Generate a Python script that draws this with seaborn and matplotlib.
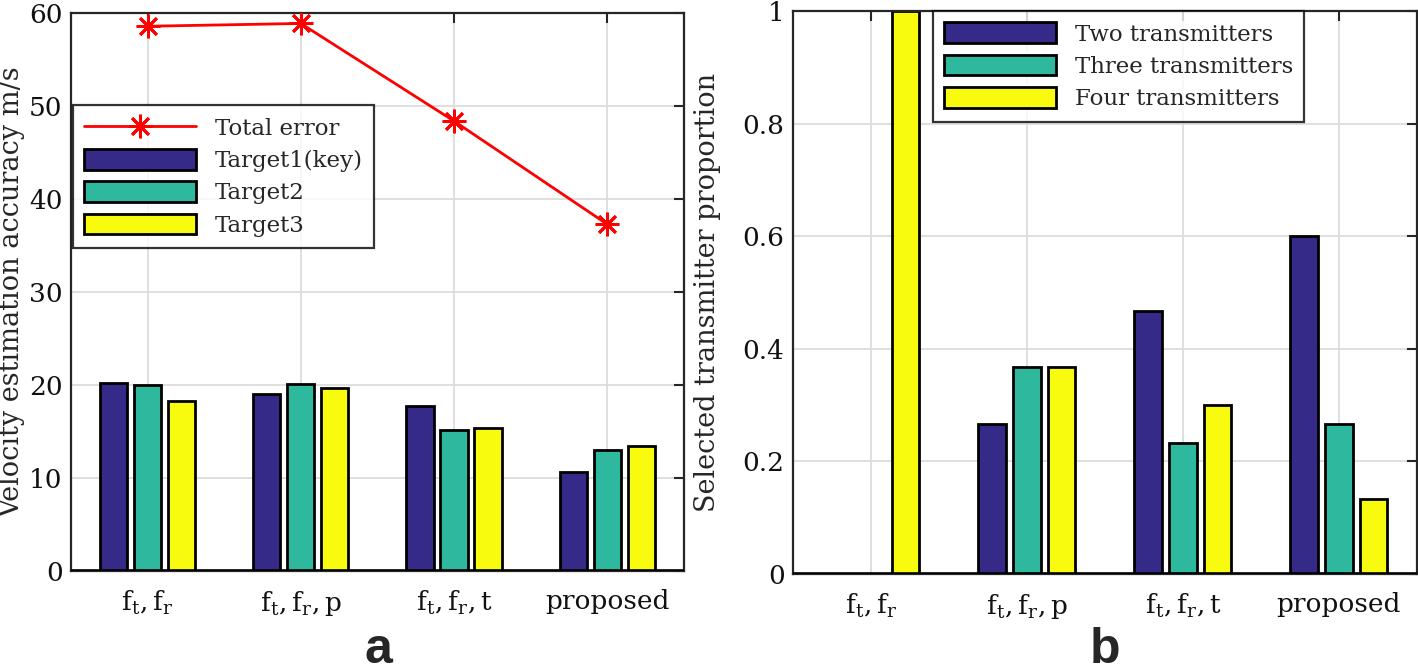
import matplotlib
matplotlib.use("Agg")
import matplotlib.pyplot as plt
import pandas as pd
import seaborn as sns
from matplotlib.lines import Line2D
from matplotlib.patches import Patch

# --- data --------------------------------------------------------------
methods = ["ft,fr", "ft,fr,p", "ft,fr,t", "proposed"]
tick_labels = [r"$\mathrm{f_t,f_r}$", r"$\mathrm{f_t,f_r,p}$",
               r"$\mathrm{f_t,f_r,t}$", "proposed"]

targets = ["Target1(key)", "Target2", "Target3"]
target1 = [20.2, 19.0, 17.8, 10.7]
target2 = [20.0, 20.1, 15.2, 13.0]
target3 = [18.3, 19.7, 15.4, 13.5]
total_error = [58.6, 58.9, 48.4, 37.3]

groups = ["Two transmitters", "Three transmitters", "Four transmitters"]
two_tx = [0.0, 0.267, 0.467, 0.6]
three_tx = [0.0, 0.367, 0.233, 0.267]
four_tx = [1.0, 0.367, 0.3, 0.133]

colors = ["#352A87", "#2EB99E", "#F9FB0E"]

df_a = pd.DataFrame({
    "method": methods * 3,
    "series": [t for t in targets for _ in methods],
    "value": target1 + target2 + target3,
})
df_b = pd.DataFrame({
    "method": methods * 3,
    "series": [g for g in groups for _ in methods],
    "value": two_tx + three_tx + four_tx,
})

sns.set_style("white")
plt.rcParams["font.family"] = ["DejaVu Serif"]
plt.rcParams["mathtext.fontset"] = "dejavuserif"
TICK_FS = 19
LEG_FS = 16.5
LAB_FS = 19.5
axis_color = "#262626"

fig = plt.figure(figsize=(14.18, 6.72), dpi=100)
ax_a = fig.add_axes([0.050, 0.1503, 0.4323, 0.830])
ax_b = fig.add_axes([0.5592, 0.1458, 0.4400, 0.8378])


def style_axes(ax, ylim, yticks, yticklabels):
    ax.set_xlim(-0.5, 3.5)
    ax.set_ylim(*ylim)
    ax.set_xticks(range(4))
    ax.set_xticklabels(tick_labels, fontsize=TICK_FS)
    ax.set_yticks(yticks)
    ax.set_yticklabels(yticklabels, fontsize=TICK_FS)
    ax.set_xlabel("")
    ax.grid(True, color="#DCDCDC", linewidth=1.3)
    ax.set_axisbelow(True)
    ax.tick_params(direction="in", length=7, width=1.5, color=axis_color,
                   top=True, right=True, labelcolor="#111111")
    ax.tick_params(axis="x", pad=13)
    ax.tick_params(axis="y", pad=6)
    for sp in ax.spines.values():
        sp.set_color(axis_color)
        sp.set_linewidth(1.6)
    ax.axhline(0, color="black", linewidth=2.6, zorder=5)


# --- panel a ----------------------------------------------------------
sns.barplot(data=df_a, x="method", y="value", hue="series", hue_order=targets,
            palette=colors, width=0.667, gap=0.2, edgecolor="black",
            linewidth=2.0, saturation=1, ax=ax_a, legend=False)
sns.lineplot(x=list(range(4)), y=total_error, color="red", linewidth=2,
             marker=(8, 2, 0), markersize=17, markeredgewidth=2,
             markeredgecolor="red", ax=ax_a, zorder=6)
style_axes(ax_a, (0, 60), range(0, 61, 10), [str(v) for v in range(0, 61, 10)])
ax_a.set_ylabel("Velocity estimation accuracy m/s", fontsize=LAB_FS)
ax_a.yaxis.set_label_coords(-0.075, 0.5)

handles_a = [Line2D([], [], color="red", linewidth=2, marker=(8, 2, 0),
                    markersize=17, markeredgewidth=2)]
handles_a += [Patch(facecolor=c, edgecolor="black", linewidth=2) for c in colors]
ax_a.legend(handles_a, ["Total error"] + targets, loc="upper left",
            bbox_to_anchor=(0.003, 0.835), borderaxespad=0, fontsize=LEG_FS,
            frameon=True, fancybox=False, edgecolor="black",
            handlelength=4.9, handleheight=1.0, labelspacing=0.4,
            borderpad=0.5).get_frame().set_linewidth(1.6)

# --- panel b ----------------------------------------------------------
sns.barplot(data=df_b, x="method", y="value", hue="series", hue_order=groups,
            palette=colors, width=0.667, gap=0.2, edgecolor="black",
            linewidth=2.0, saturation=1, ax=ax_b, legend=False)
style_axes(ax_b, (0, 1), [0, 0.2, 0.4, 0.6, 0.8, 1],
           ["0", "0.2", "0.4", "0.6", "0.8", "1"])
ax_b.set_ylabel("Selected transmitter proportion", fontsize=LAB_FS)
ax_b.yaxis.set_label_coords(-0.115, 0.5)

handles_b = [Patch(facecolor=c, edgecolor="black", linewidth=2) for c in colors]
ax_b.legend(handles_b, groups, loc="upper left", bbox_to_anchor=(0.224, 1.0),
            borderaxespad=0, fontsize=LEG_FS, frameon=True, fancybox=False,
            edgecolor="black", handlelength=4.9, handleheight=1.0,
            labelspacing=0.4, borderpad=0.5).get_frame().set_linewidth(1.6)

fig.text(378 / 1418, 1 - 650 / 672, "a", fontsize=36, fontweight="bold",
         family="Liberation Sans", ha="center", va="center")
fig.text(1105 / 1418, 1 - 650 / 672, "b", fontsize=36, fontweight="bold",
         family="Liberation Sans", ha="center", va="center")

fig.savefig("out.png", dpi=100)
